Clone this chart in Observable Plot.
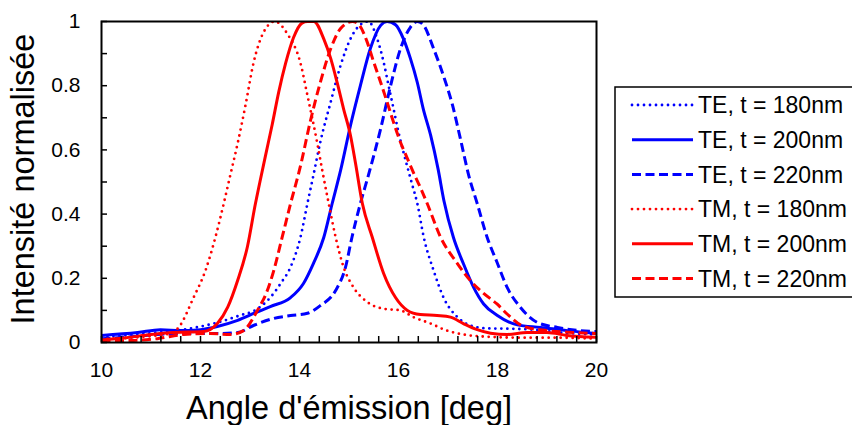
<!DOCTYPE html>
<html>
<head>
<meta charset="utf-8">
<script src="https://cdn.jsdelivr.net/npm/d3@7"></script>
<script src="https://cdn.jsdelivr.net/npm/@observablehq/plot@0.6"></script>
<style>
  body { margin: 0; background: white; }
  #wrap { position: relative; width: 852px; height: 425px; }
  #legend { position: absolute; left: 0; top: 0; pointer-events: none; }
</style>
</head>
<body>
<div id="wrap"></div>
<script>
// ---- data ----
const seriesNames = ["TE, t = 180nm", "TE, t = 200nm", "TE, t = 220nm",
                     "TM, t = 180nm", "TM, t = 200nm", "TM, t = 220nm"];

const xTE180 = [10, 10.44, 11.13, 11.8, 12.34, 12.81, 13.1, 13.41, 13.62, 13.82, 14.02, 14.16, 14.28, 14.42, 14.63, 14.83, 15.03, 15.23, 15.39, 15.57, 15.7, 15.8, 15.9, 16.0, 16.1, 16.2, 16.28, 16.38, 16.51, 16.71, 16.91, 17.19, 17.45, 17.79, 18.2, 18.73, 19.27, 20];
const yTE180 = [0.016, 0.022, 0.031, 0.044, 0.062, 0.085, 0.1, 0.14, 0.184, 0.235, 0.328, 0.433, 0.52, 0.624, 0.749, 0.863, 0.946, 0.99, 1.0, 0.946, 0.873, 0.8, 0.728, 0.655, 0.593, 0.535, 0.49, 0.433, 0.328, 0.224, 0.14, 0.079, 0.053, 0.044, 0.043, 0.04, 0.031, 0.025];

const xTE200 = [10, 10.73, 11.19, 11.6, 12.0, 12.34, 12.75, 13.1, 13.41, 13.82, 14.08, 14.28, 14.49, 14.66, 14.83, 15.03, 15.23, 15.43, 15.64, 15.77, 15.94, 16.1, 16.24, 16.38, 16.5, 16.65, 16.8, 16.92, 17.11, 17.31, 17.52, 17.72, 17.99, 18.4, 18.87, 19.41, 20];
const yTE200 = [0.022, 0.031, 0.04, 0.037, 0.04, 0.05, 0.069, 0.092, 0.112, 0.14, 0.184, 0.246, 0.327, 0.433, 0.536, 0.676, 0.8, 0.915, 0.988, 1.0, 0.99, 0.946, 0.885, 0.81, 0.728, 0.645, 0.54, 0.44, 0.327, 0.246, 0.171, 0.12, 0.085, 0.055, 0.047, 0.037, 0.028];

const xTE220 = [10, 10.44, 11.13, 11.8, 12.34, 12.75, 13.07, 13.48, 13.82, 14.16, 14.42, 14.73, 14.93, 15.06, 15.23, 15.39, 15.64, 15.84, 16.04, 16.24, 16.38, 16.5, 16.71, 16.91, 17.09, 17.25, 17.42, 17.59, 17.79, 17.99, 18.2, 18.46, 18.81, 19.21, 19.68, 20];
const yTE220 = [0.012, 0.016, 0.025, 0.028, 0.028, 0.031, 0.053, 0.075, 0.084, 0.091, 0.115, 0.162, 0.235, 0.328, 0.433, 0.52, 0.666, 0.8, 0.915, 0.982, 1.0, 0.99, 0.915, 0.83, 0.74, 0.635, 0.52, 0.433, 0.328, 0.25, 0.17, 0.11, 0.062, 0.047, 0.037, 0.034];

const xTM180 = [10, 10.6, 11.0, 11.39, 11.56, 11.86, 12.1, 12.3, 12.47, 12.6, 12.75, 12.91, 13.07, 13.27, 13.5, 13.76, 14.02, 14.16, 14.36, 14.46, 14.59, 14.73, 14.89, 15.09, 15.37, 15.7, 16.04, 16.3, 16.65, 16.98, 17.31, 17.66, 18.5, 19.2, 20];
const yTM180 = [0.01, 0.015, 0.02, 0.028, 0.047, 0.14, 0.224, 0.327, 0.433, 0.52, 0.62, 0.74, 0.87, 0.965, 1.0, 0.96, 0.87, 0.77, 0.62, 0.536, 0.433, 0.328, 0.235, 0.172, 0.126, 0.105, 0.1, 0.079, 0.059, 0.037, 0.025, 0.019, 0.015, 0.015, 0.012];

const xTM200 = [10, 10.5, 11.0, 11.45, 12.06, 12.34, 12.55, 12.75, 12.95, 13.11, 13.2, 13.31, 13.45, 13.58, 13.72, 13.88, 14.05, 14.16, 14.29, 14.49, 14.63, 14.76, 14.89, 15.03, 15.13, 15.27, 15.47, 15.7, 15.94, 16.18, 16.44, 16.78, 17.05, 17.31, 17.59, 17.86, 18.2, 18.6, 19.0, 19.4, 20];
const yTM200 = [0.008, 0.015, 0.025, 0.031, 0.034, 0.059, 0.11, 0.193, 0.3, 0.433, 0.5, 0.58, 0.68, 0.78, 0.87, 0.95, 0.995, 1.0, 1.0, 0.946, 0.885, 0.81, 0.728, 0.645, 0.56, 0.433, 0.328, 0.215, 0.14, 0.1, 0.087, 0.084, 0.079, 0.059, 0.04, 0.029, 0.025, 0.031, 0.031, 0.022, 0.016];

const xTM220 = [10, 10.59, 11.13, 11.66, 12.2, 12.61, 12.87, 13.15, 13.35, 13.48, 13.65, 13.82, 14.02, 14.22, 14.42, 14.63, 14.83, 15.07, 15.2, 15.37, 15.5, 15.64, 15.77, 15.9, 16.04, 16.18, 16.3, 16.45, 16.58, 16.85, 17.19, 17.45, 17.72, 17.99, 18.2, 18.53, 19.0, 19.54, 20];
const yTM220 = [0.005, 0.006, 0.012, 0.025, 0.028, 0.025, 0.037, 0.1, 0.162, 0.224, 0.328, 0.433, 0.55, 0.69, 0.81, 0.915, 0.978, 1.0, 0.99, 0.935, 0.873, 0.81, 0.749, 0.686, 0.624, 0.573, 0.53, 0.48, 0.433, 0.328, 0.246, 0.193, 0.153, 0.12, 0.088, 0.05, 0.037, 0.031, 0.028];

const xTickLabels = [10, 12, 14, 16, 18, 20];
const yTickLabels = [0, 0.2, 0.4, 0.6, 0.8, 1];
const xMinorTicks = d3.range(0, 26).map(i => +(10 + i * 0.4).toFixed(1));
const yMinorTicks = d3.range(0, 11).map(i => +(i * 0.1).toFixed(1));
const xTitle = "Angle d'émission [deg]";
const yTitle = "Intensité normalisée";

// ---- styles ----
const BLUE = "#0000ff", RED = "#ff0000";
const styleList = [
  {color: BLUE, dash: "0 6", cap: "round", width: 2.8},
  {color: BLUE, dash: null, cap: "butt", width: 3},
  {color: BLUE, dash: "9 4.5", cap: "butt", width: 3},
  {color: RED, dash: "0 6", cap: "round", width: 2.8},
  {color: RED, dash: null, cap: "butt", width: 3},
  {color: RED, dash: "9 4.5", cap: "butt", width: 3}
];
const xs = [xTE180, xTE200, xTE220, xTM180, xTM200, xTM220];
const ys = [yTE180, yTE200, yTE220, yTM180, yTM200, yTM220];
const tables = xs.map((xarr, k) => xarr.map((x, i) => ({x, y: ys[k][i], name: seriesNames[k]})));

const W = 852, H = 425, ML = 101, MR = 256, MT = 21, MB = 83;
const PW = W - ML - MR, PH = H - MT - MB;
const FONT = "'Liberation Sans', Arial, sans-serif";

const lineMarks = tables.map((t, k) => Plot.line(t, {
  x: "x", y: "y", curve: "monotone-x",
  stroke: styleList[k].color, strokeWidth: styleList[k].width,
  strokeDasharray: styleList[k].dash, strokeLinecap: styleList[k].cap,
  strokeLinejoin: "round", clip: true
}));

const chart = Plot.plot({
  width: W, height: H,
  marginLeft: ML, marginRight: MR, marginTop: MT, marginBottom: MB,
  x: {domain: [10, 20]},
  y: {domain: [0, 1]},
  style: {fontFamily: FONT, color: "black", background: "white", overflow: "visible"},
  marks: [
    ...lineMarks,
    Plot.ruleX(xMinorTicks, {insetTop: PH - 6, stroke: "black", strokeWidth: 1.5}),
    Plot.ruleY(yMinorTicks, {insetRight: PW - 6, stroke: "black", strokeWidth: 1.5}),
    Plot.frame({stroke: "black", strokeWidth: 2}),
    Plot.axisX(xTickLabels, {tickSize: 0, tickPadding: 20, fontSize: 21, label: null, tickFormat: d => String(d)}),
    Plot.axisY(yTickLabels, {tickSize: 0, tickPadding: 21, fontSize: 21, label: null, tickFormat: d => String(d)}),
    Plot.text([xTitle], {text: d => d, frameAnchor: "bottom", dy: 66, lineAnchor: "middle", textAnchor: "middle", fontSize: 32.5, fill: "black"}),
    Plot.text([yTitle], {text: d => d, frameAnchor: "left", dx: -78, dy: -3, rotate: -90, lineAnchor: "middle", textAnchor: "middle", fontSize: 32.5, fill: "black"})
  ]
});
document.getElementById("wrap").appendChild(chart);

// ---- legend ----
const leg = d3.select("#wrap").append("svg")
  .attr("id", "legend").attr("width", W).attr("height", H)
  .style("font-family", FONT);
leg.append("rect").attr("x", 615).attr("y", 87).attr("width", 260).attr("height", 210)
  .attr("fill", "white").attr("stroke", "black").attr("stroke-width", 1.5);
seriesNames.forEach((name, k) => {
  const yy = 105 + k * 34.7;
  const s = styleList[k];
  leg.append("line").attr("x1", 632).attr("x2", 693).attr("y1", yy).attr("y2", yy)
    .attr("stroke", s.color).attr("stroke-width", s.width)
    .attr("stroke-dasharray", s.dash).attr("stroke-linecap", s.cap);
  leg.append("text").attr("x", 698).attr("y", yy).attr("dy", "0.36em")
    .attr("font-size", 23).attr("fill", "black").text(name);
});
</script>
</body>
</html>
